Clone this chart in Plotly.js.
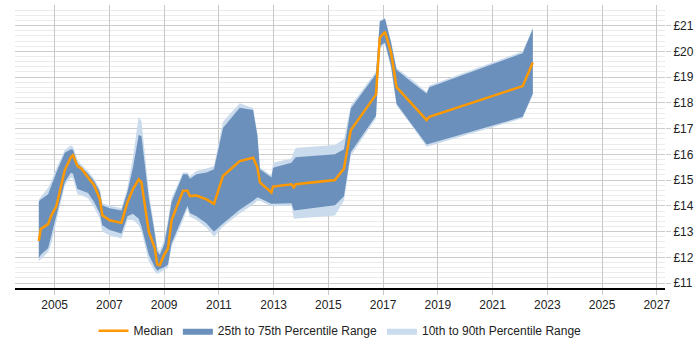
<!DOCTYPE html>
<html>
<head>
<meta charset="utf-8">
<script src="https://cdn.plot.ly/plotly-3.0.1.min.js"></script>
<style>
  html, body { margin: 0; padding: 0; background: #fff; }
  #chart { width: 700px; height: 350px; }
</style>
</head>
<body>
<div id="chart"></div>
<script>
// Sample dates as decimal years
const years = [
  2004.42, 2004.49, 2004.76, 2004.88, 2005.06, 2005.37, 2005.59, 2005.67, 2005.83, 2005.98,
  2006.22, 2006.44, 2006.65, 2006.74, 2007.01, 2007.44, 2007.66, 2007.86, 2008.07, 2008.17,
  2008.44, 2008.66, 2008.75, 2008.84, 2009.00, 2009.14, 2009.27, 2009.69, 2009.85, 2009.94,
  2010.18, 2010.55, 2010.82, 2011.15, 2011.76, 2012.25, 2012.41, 2012.50, 2012.92, 2012.98,
  2013.65, 2013.74, 2013.81, 2015.24, 2015.57, 2015.82, 2016.74, 2016.88, 2017.07, 2017.29,
  2017.49, 2018.04, 2018.59, 2018.69, 2022.10, 2022.47
];

// Hourly rate percentiles (£)
const median = [
  12.64, 13.10, 13.29, 13.63, 13.98, 15.39, 15.89, 15.97, 15.55, 15.44,
  15.10, 14.80, 14.27, 13.63, 13.44, 13.34, 14.14, 14.65, 15.03, 14.91,
  12.99, 12.35, 11.72, 11.69, 12.10, 12.35, 13.44, 14.59, 14.59, 14.38,
  14.40, 14.25, 14.08, 15.16, 15.74, 15.87, 15.48, 14.91, 14.52, 14.75,
  14.84, 14.72, 14.84, 15.00, 15.45, 16.94, 18.32, 20.53, 20.76, 19.95,
  18.61, 17.97, 17.33, 17.46, 18.65, 19.57
];
const p25 = [
  11.97, 12.10, 12.35, 12.75, 13.60, 14.92, 15.29, 15.25, 14.65, 14.60,
  14.50, 14.15, 13.70, 13.25, 13.06, 12.93, 13.60, 13.69, 13.50, 13.20,
  12.10, 11.62, 11.48, 11.55, 11.62, 11.72, 12.54, 13.60, 14.00, 13.72,
  13.60, 13.31, 12.99, 13.31, 13.85, 14.20, 14.33, 14.30, 14.08, 14.10,
  14.10, 13.82, 13.82, 14.02, 14.37, 16.08, 17.50, 20.21, 20.34, 19.44,
  17.97, 17.17, 16.38, 16.42, 17.46, 18.36
];
const p75 = [
  14.17, 14.25, 14.45, 14.80, 15.30, 16.06, 16.20, 16.18, 15.65, 15.50,
  15.25, 14.97, 14.55, 14.02, 13.91, 13.82, 14.55, 15.48, 16.75, 16.70,
  14.30, 12.90, 12.23, 12.10, 12.50, 13.30, 14.14, 15.23, 15.23, 15.05,
  15.23, 15.30, 15.42, 17.02, 17.81, 17.72, 16.70, 15.42, 15.10, 15.48,
  15.67, 15.80, 15.89, 16.00, 16.20, 17.78, 19.12, 21.16, 21.27, 20.34,
  19.29, 18.81, 18.36, 18.61, 19.93, 20.87
];
const p10 = [
  11.85, 11.95, 12.20, 12.55, 13.40, 14.80, 15.10, 15.05, 14.45, 14.40,
  14.30, 13.95, 13.50, 13.00, 12.85, 12.74, 13.45, 13.45, 13.25, 13.00,
  11.85, 11.45, 11.35, 11.40, 11.50, 11.60, 12.40, 13.45, 13.90, 13.58,
  13.45, 13.15, 12.80, 13.20, 13.70, 14.05, 14.20, 14.20, 13.98, 14.00,
  14.00, 13.50, 13.50, 13.63, 14.20, 15.95, 17.40, 20.10, 20.25, 19.35,
  17.90, 17.12, 16.30, 16.35, 17.40, 18.30
];
const p90 = [
  14.25, 14.35, 14.70, 14.97, 15.45, 16.18, 16.35, 16.30, 15.80, 15.60,
  15.35, 15.05, 14.65, 14.10, 14.00, 13.92, 14.70, 15.90, 17.45, 17.30,
  14.55, 13.05, 12.40, 12.25, 12.65, 13.45, 14.30, 15.30, 15.30, 15.15,
  15.35, 15.45, 15.55, 17.27, 17.98, 17.80, 16.80, 15.50, 15.18, 15.67,
  15.84, 16.10, 16.25, 16.36, 16.60, 17.90, 19.22, 21.20, 21.30, 20.40,
  19.35, 18.92, 18.42, 18.67, 20.00, 20.92
];

const seriesNames = ['Median', '25th to 75th Percentile Range', '10th to 90th Percentile Range'];

// Closed polygon: upper edge left-to-right, lower edge right-to-left
function band(lower, upper) {
  return {
    x: years.concat(years.slice().reverse()),
    y: upper.concat(lower.slice().reverse())
  };
}

const outer = band(p10, p90);
const inner = band(p25, p75);

const traces = [
  {
    x: outer.x, y: outer.y, type: 'scatter', mode: 'lines',
    fill: 'toself', fillcolor: '#c9dbec', line: { width: 0, color: '#c9dbec' },
    name: seriesNames[2], hoverinfo: 'skip', legendrank: 3
  },
  {
    x: inner.x, y: inner.y, type: 'scatter', mode: 'lines',
    fill: 'toself', fillcolor: '#6b90bb', line: { width: 0, color: '#6b90bb' },
    name: seriesNames[1], hoverinfo: 'skip', legendrank: 2
  },
  {
    x: years, y: median, type: 'scatter', mode: 'lines',
    line: { color: '#ff9900', width: 2.5 },
    name: seriesNames[0], legendrank: 1
  }
];

const layout = {
  width: 700, height: 350,
  margin: { l: 15, r: 35, t: 5, b: 58 },
  paper_bgcolor: '#ffffff', plot_bgcolor: '#ffffff',
  font: { family: 'Liberation Sans, Arial, sans-serif', size: 12, color: '#222' },
  showlegend: true,
  legend: {
    orientation: 'h', x: 0.5, xanchor: 'center', y: -0.1, yanchor: 'top',
    font: { size: 12, color: '#222' }, traceorder: 'normal'
  },
  xaxis: {
    range: [2003.55, 2027.3], tick0: 2005, dtick: 2, tickformat: 'd',
    showgrid: true, gridcolor: '#c8c8c8', gridwidth: 1,
    showline: true, linecolor: '#000', linewidth: 1.5,
    ticks: 'outside', ticklen: 5, tickcolor: '#c8c8c8',
    zeroline: false, fixedrange: true
  },
  yaxis: {
    side: 'right', range: [10.81, 21.8], tick0: 11, dtick: 1, tickprefix: '£',
    showgrid: true, gridcolor: '#cccccc', gridwidth: 1,
    minor: { dtick: 0.2, showgrid: true, gridcolor: '#ebebeb', gridwidth: 1 },
    ticks: 'outside', ticklen: 5, tickcolor: '#cccccc',
    showline: false, zeroline: false, fixedrange: true
  }
};

Plotly.newPlot('chart', traces, layout, { displayModeBar: false, staticPlot: true });
</script>
</body>
</html>
